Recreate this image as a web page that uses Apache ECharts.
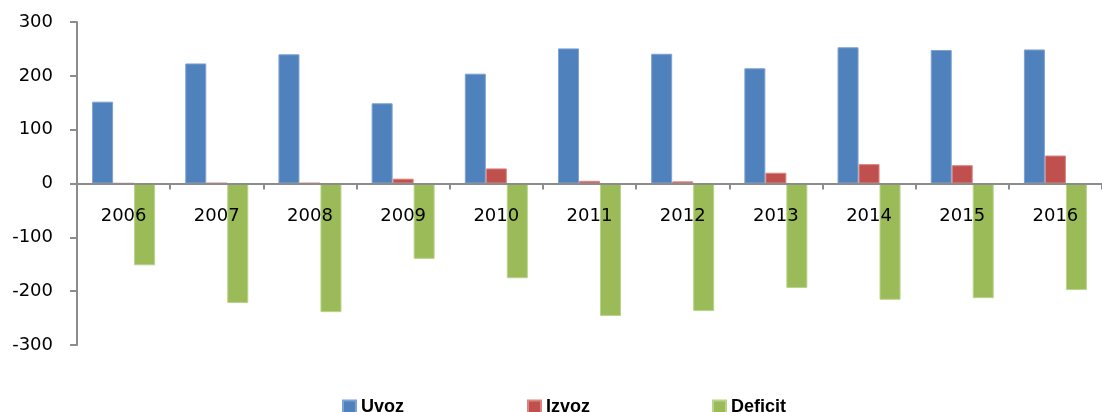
<!DOCTYPE html>
<html>
<head>
<meta charset="utf-8">
<script src="https://cdn.jsdelivr.net/npm/echarts@6/dist/echarts.min.js"></script>
<style>html,body{margin:0;padding:0;background:#fff;}#c{width:1102px;height:412px;}</style>
</head>
<body>
<div id="c"></div>
<script>
const categories = ['2006','2007','2008','2009','2010','2011','2012','2013','2014','2015','2016'];
const uvoz    = [152, 223, 240, 149, 204, 251, 241, 214, 253, 248, 249];
const izvoz   = [0.5, 1, 1, 9, 28, 5, 4, 20, 36, 34, 52];
const deficit = [-152, -222, -239, -140, -176, -246, -237, -194, -216, -213, -198];
const seriesNames = ['Uvoz', 'Izvoz', 'Deficit'];
const yTicks = { min: -300, max: 300, interval: 100 };

const colors = ['#4F81BD', '#C0504D', '#9BBB59'];
const borders = ['#7DA2D3', '#D98683', '#B9D38A'];
const W = 1102, H = 412;
const gridTop = 22, gridBottom = 67;
const plotH = H - gridTop - gridBottom;
// distance from bottom of plot to zero line, to place the category axis on zero
const zeroFromBottom = plotH * (0 - yTicks.min) / (yTicks.max - yTicks.min);

const chart = echarts.init(document.getElementById('c'));
const axisFont = { fontFamily: 'DejaVu Sans', fontSize: 18, color: '#000' };
const legendLefts = [337, 522, 707];
chart.setOption({
  animation: false,
  grid: { left: 77, top: gridTop, bottom: gridBottom, right: -12, containLabel: false },
  legend: seriesNames.map((n, i) => ({
    data: [n], left: legendLefts[i], top: 393, itemWidth: 13, itemHeight: 13, itemGap: 5,
    icon: 'rect',
    textStyle: { fontFamily: 'Liberation Sans', fontWeight: 'bold', fontSize: 18, color: '#000' }
  })),
  xAxis: {
    type: 'category', data: categories, position: 'bottom', z: 10,
    offset: -zeroFromBottom,
    axisLine: { onZero: false, lineStyle: { color: '#8C8C8C', width: 2 } },
    axisTick: { show: true, length: 6, lineStyle: { color: '#8C8C8C', width: 2 } },
    axisLabel: Object.assign({ margin: 24, interval: 0 }, axisFont),
    splitLine: { show: false }
  },
  yAxis: {
    type: 'value', min: yTicks.min, max: yTicks.max, interval: yTicks.interval,
    axisLine: { show: true, lineStyle: { color: '#8C8C8C', width: 2 } },
    axisTick: { show: true, length: 7, lineStyle: { color: '#8C8C8C', width: 2 } },
    axisLabel: Object.assign({ margin: 24 }, axisFont),
    splitLine: { show: false }
  },
  series: [uvoz, izvoz, deficit].map((d, i) => ({
    name: seriesNames[i], type: 'bar', data: d, barWidth: 21, barGap: '0%',
    itemStyle: { color: colors[i], borderColor: borders[i], borderWidth: 1 }
  }))
});
</script>
</body>
</html>
